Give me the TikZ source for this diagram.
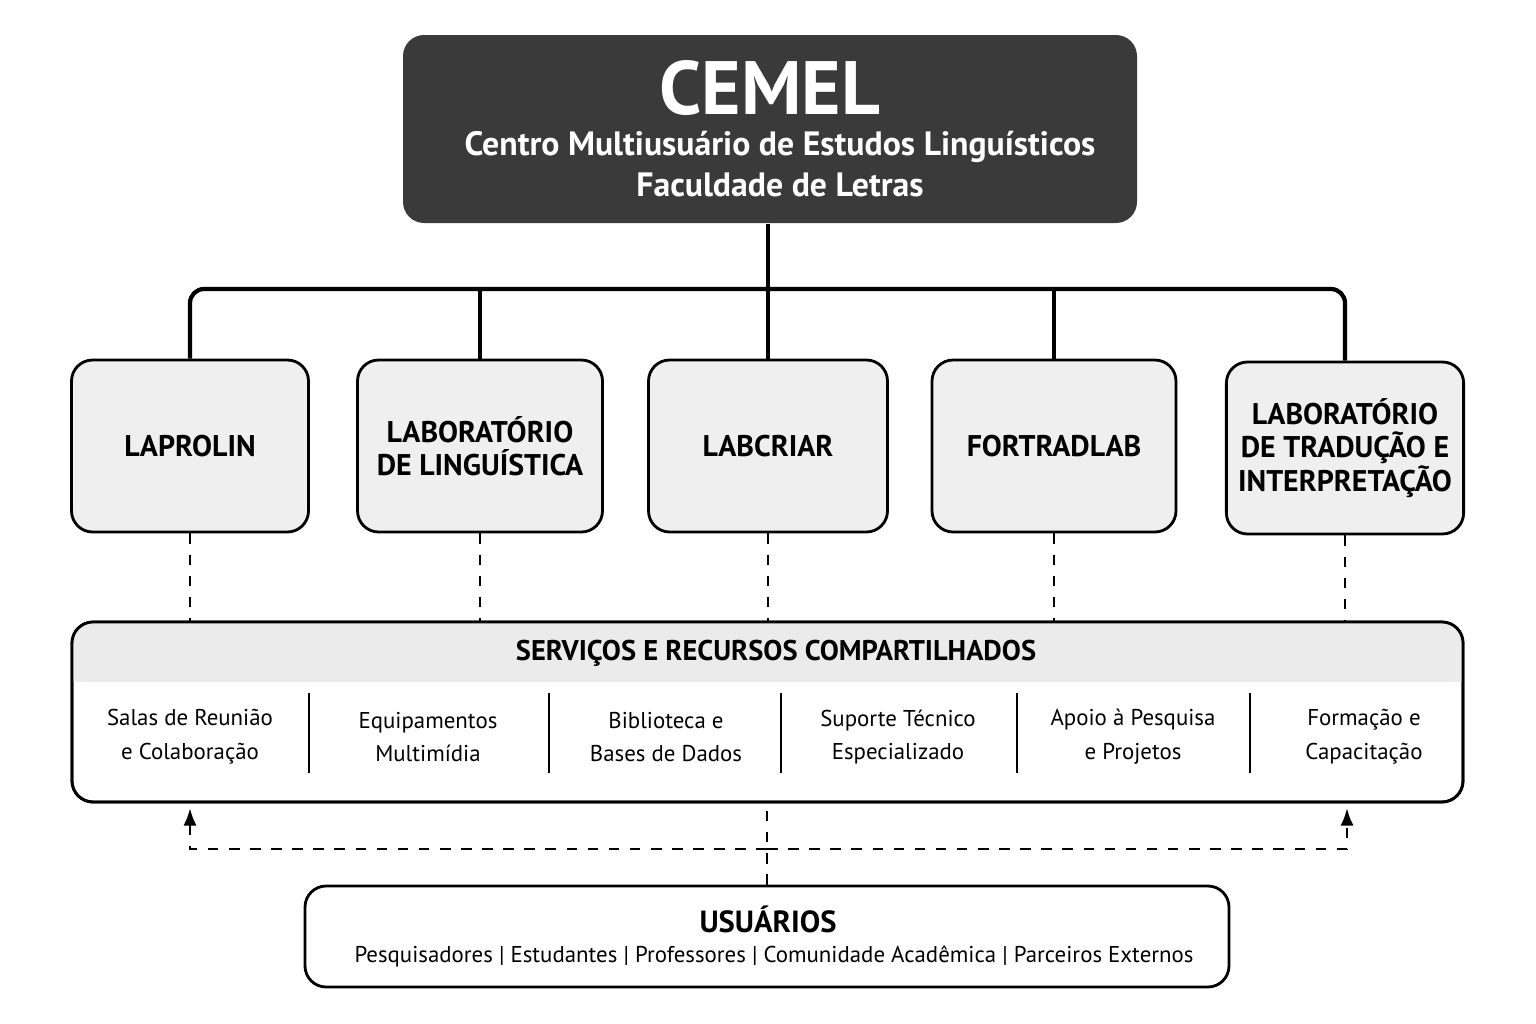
\documentclass[tikz,border=0pt]{standalone}
\usepackage{fontspec}
\setmainfont{PT Sans}
\usetikzlibrary{arrows.meta,positioning,calc}

\definecolor{darkbox}{HTML}{3A3A3A}
\definecolor{labfill}{HTML}{EFEFEF}
\definecolor{bandfill}{HTML}{EBEBEB}

\begin{document}
\begin{tikzpicture}[x=0.01cm,y=-0.01cm,
    labbox/.style={draw, thick, rounded corners=6pt, fill=labfill, align=center,
        font=\fontsize{8.5}{9.5}\selectfont\bfseries},
    tree/.style={very thick, rounded corners=4pt},
    link/.style={thick, dashed}]
    \useasboundingbox (0,0) rectangle (1536,1024);

    % Header
    \node[fill=darkbox, rounded corners=6pt, minimum width=734*0.01cm, minimum height=188*0.01cm]
        (cemel) at (770,129) {};
    \node[white, font=\fontsize{21.5}{24}\selectfont\bfseries] (title) at (770,88) {CEMEL};
    \node[white, align=center, font=\fontsize{9.6}{11.8}\selectfont\bfseries] (sub) at (780,164)
        {Centro Multiusuário de Estudos Linguísticos\\Faculdade de Letras};

    % Laboratories
    \node[labbox, minimum width=237*0.01cm, minimum height=172*0.01cm] (lap) at (190,446) {LAPROLIN};
    \node[labbox, minimum width=245*0.01cm, minimum height=172*0.01cm] (lling) at (480,446) {LABORATÓRIO\\DE LINGUÍSTICA};
    \node[labbox, minimum width=239*0.01cm, minimum height=172*0.01cm] (lcri) at (768,446) {LABCRIAR};
    \node[labbox, minimum width=244*0.01cm, minimum height=172*0.01cm] (fort) at (1054,446) {FORTRADLAB};
    \node[labbox, minimum width=236*0.01cm, minimum height=172*0.01cm] (ltrad) at (1345,448) {LABORATÓRIO\\DE TRADUÇÃO E\\INTERPRETAÇÃO};

    % Tree
    \coordinate (hub) at (768,289);
    \draw[very thick] (cemel.south -| hub) -- (lcri.north);
    \draw[tree] (lap.north) |- (hub) -| (ltrad.north);
    \draw[very thick] (lling.north) -- (lling.north |- hub);
    \draw[very thick] (fort.north) -- (fort.north |- hub);

    % Shared services
    \node[draw, thick, rounded corners=6pt, fill=white, minimum width=1391*0.01cm, minimum height=180*0.01cm]
        (serv) at (767.5,712) {};
    \fill[bandfill, rounded corners=5pt] ([xshift=0.6pt,yshift=-0.6pt]serv.north west) rectangle (1462,682);
    \fill[bandfill] (73,660) rectangle (1462,682);
    \node[draw, thick, rounded corners=6pt, minimum width=1391*0.01cm, minimum height=180*0.01cm] at (767.5,712) {};
    \node[font=\fontsize{8.1}{10}\selectfont\bfseries] (servt) at (776,653) {SERVIÇOS E RECURSOS COMPARTILHADOS};
    \foreach \x/\txt [count=\i] in {190/{Salas de Reunião\\e Colaboração}, 428/{Equipamentos\\Multimídia},
        666/{Biblioteca e\\Bases de Dados}, 898/{Suporte Técnico\\Especializado},
        1133/{Apoio à Pesquisa\\e Projetos}, 1364/{Formação e\\Capacitação}}
        \node[align=center, font=\fontsize{6.5}{9.6}\selectfont] (item\i) at (\x,737) {\txt};
    \foreach \x in {309,549,781,1017,1250}
        \draw[thin] (\x,693) -- (\x,773);

    % Dashed links
    \foreach \n in {lap,lling,lcri,fort,ltrad}
        \draw[link] (\n.south) -- (\n.south |- serv.north);

    % Users
    \node[draw, thick, rounded corners=6pt, fill=white, minimum width=924*0.01cm, minimum height=101*0.01cm]
        (users) at (767,936.5) {};
    \node[font=\fontsize{8.7}{10}\selectfont\bfseries] (ut) at (768,919) {USUÁRIOS};
    \node[font=\fontsize{6.5}{8}\selectfont] (ul) at (774,956)
        {Pesquisadores | Estudantes | Professores | Comunidade Acadêmica | Parceiros Externos};

    \coordinate (loopl) at (190,849);
    \coordinate (loopr) at (1347,849);
    \draw[link] (users.north) -- (users.north |- serv.south);
    \draw[link, -{Latex[length=5pt]}] (loopl -| users.north) -- (loopl) -- (190,808);
    \draw[link, -{Latex[length=5pt]}] (loopl -| users.north) -- (loopr) -- (1347,808);
\end{tikzpicture}
\end{document}
